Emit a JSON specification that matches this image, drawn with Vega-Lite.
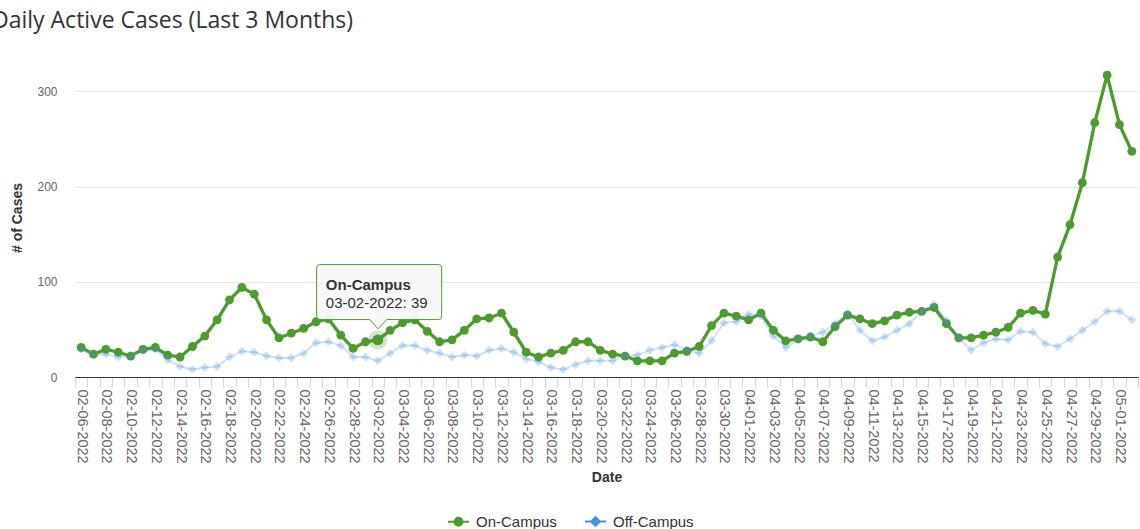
{
  "$schema": "https://vega.github.io/schema/vega-lite/v6.json",
  "width": 1063,
  "height": 319,
  "autosize": {"type": "none"},
  "padding": {"left": 75, "top": 58, "right": 2, "bottom": 152},
  "background": "#ffffff",
  "title": {"text": "Daily Active Cases (Last 3 Months)", "anchor": "start", "frame": "group", "dx": -83, "offset": 7, "baseline": "alphabetic", "font": "Open Sans", "fontSize": 23, "fontWeight": "normal", "color": "#333333"},
  "config": {"view": {"stroke": null}},
  "data": {"values": [
    {"date": "02-06-2022", "On-Campus": 31, "Off-Campus": 29},
    {"date": "02-07-2022", "On-Campus": 24, "Off-Campus": 23},
    {"date": "02-08-2022", "On-Campus": 29, "Off-Campus": 24},
    {"date": "02-09-2022", "On-Campus": 26, "Off-Campus": 21},
    {"date": "02-10-2022", "On-Campus": 22, "Off-Campus": 22},
    {"date": "02-11-2022", "On-Campus": 29, "Off-Campus": 28},
    {"date": "02-12-2022", "On-Campus": 31, "Off-Campus": 29},
    {"date": "02-13-2022", "On-Campus": 23, "Off-Campus": 18},
    {"date": "02-14-2022", "On-Campus": 21, "Off-Campus": 11},
    {"date": "02-15-2022", "On-Campus": 32, "Off-Campus": 8},
    {"date": "02-16-2022", "On-Campus": 43, "Off-Campus": 10},
    {"date": "02-17-2022", "On-Campus": 60, "Off-Campus": 11},
    {"date": "02-18-2022", "On-Campus": 81, "Off-Campus": 21},
    {"date": "02-19-2022", "On-Campus": 94, "Off-Campus": 27},
    {"date": "02-20-2022", "On-Campus": 87, "Off-Campus": 26},
    {"date": "02-21-2022", "On-Campus": 60, "Off-Campus": 22},
    {"date": "02-22-2022", "On-Campus": 41, "Off-Campus": 20},
    {"date": "02-23-2022", "On-Campus": 46, "Off-Campus": 20},
    {"date": "02-24-2022", "On-Campus": 51, "Off-Campus": 25},
    {"date": "02-25-2022", "On-Campus": 58, "Off-Campus": 36},
    {"date": "02-26-2022", "On-Campus": 61, "Off-Campus": 37},
    {"date": "02-27-2022", "On-Campus": 44, "Off-Campus": 33},
    {"date": "02-28-2022", "On-Campus": 30, "Off-Campus": 21},
    {"date": "03-01-2022", "On-Campus": 37, "Off-Campus": 21},
    {"date": "03-02-2022", "On-Campus": 39, "Off-Campus": 17},
    {"date": "03-03-2022", "On-Campus": 49, "Off-Campus": 25},
    {"date": "03-04-2022", "On-Campus": 57, "Off-Campus": 33},
    {"date": "03-05-2022", "On-Campus": 60, "Off-Campus": 33},
    {"date": "03-06-2022", "On-Campus": 48, "Off-Campus": 28},
    {"date": "03-07-2022", "On-Campus": 37, "Off-Campus": 25},
    {"date": "03-08-2022", "On-Campus": 39, "Off-Campus": 21},
    {"date": "03-09-2022", "On-Campus": 49, "Off-Campus": 23},
    {"date": "03-10-2022", "On-Campus": 61, "Off-Campus": 22},
    {"date": "03-11-2022", "On-Campus": 62, "Off-Campus": 28},
    {"date": "03-12-2022", "On-Campus": 67, "Off-Campus": 30},
    {"date": "03-13-2022", "On-Campus": 47, "Off-Campus": 26},
    {"date": "03-14-2022", "On-Campus": 26, "Off-Campus": 19},
    {"date": "03-15-2022", "On-Campus": 21, "Off-Campus": 16},
    {"date": "03-16-2022", "On-Campus": 25, "Off-Campus": 10},
    {"date": "03-17-2022", "On-Campus": 28, "Off-Campus": 8},
    {"date": "03-18-2022", "On-Campus": 37, "Off-Campus": 13},
    {"date": "03-19-2022", "On-Campus": 37, "Off-Campus": 17},
    {"date": "03-20-2022", "On-Campus": 28, "Off-Campus": 17},
    {"date": "03-21-2022", "On-Campus": 24, "Off-Campus": 17},
    {"date": "03-22-2022", "On-Campus": 22, "Off-Campus": 22},
    {"date": "03-23-2022", "On-Campus": 17, "Off-Campus": 23},
    {"date": "03-24-2022", "On-Campus": 17, "Off-Campus": 28},
    {"date": "03-25-2022", "On-Campus": 17, "Off-Campus": 31},
    {"date": "03-26-2022", "On-Campus": 25, "Off-Campus": 34},
    {"date": "03-27-2022", "On-Campus": 27, "Off-Campus": 28},
    {"date": "03-28-2022", "On-Campus": 32, "Off-Campus": 25},
    {"date": "03-29-2022", "On-Campus": 54, "Off-Campus": 38},
    {"date": "03-30-2022", "On-Campus": 67, "Off-Campus": 57},
    {"date": "03-31-2022", "On-Campus": 64, "Off-Campus": 58},
    {"date": "04-01-2022", "On-Campus": 60, "Off-Campus": 66},
    {"date": "04-02-2022", "On-Campus": 67, "Off-Campus": 64},
    {"date": "04-03-2022", "On-Campus": 49, "Off-Campus": 43},
    {"date": "04-04-2022", "On-Campus": 38, "Off-Campus": 31},
    {"date": "04-05-2022", "On-Campus": 40, "Off-Campus": 39},
    {"date": "04-06-2022", "On-Campus": 42, "Off-Campus": 43},
    {"date": "04-07-2022", "On-Campus": 37, "Off-Campus": 47},
    {"date": "04-08-2022", "On-Campus": 53, "Off-Campus": 56},
    {"date": "04-09-2022", "On-Campus": 65, "Off-Campus": 67},
    {"date": "04-10-2022", "On-Campus": 61, "Off-Campus": 49},
    {"date": "04-11-2022", "On-Campus": 56, "Off-Campus": 38},
    {"date": "04-12-2022", "On-Campus": 59, "Off-Campus": 42},
    {"date": "04-13-2022", "On-Campus": 65, "Off-Campus": 49},
    {"date": "04-14-2022", "On-Campus": 68, "Off-Campus": 56},
    {"date": "04-15-2022", "On-Campus": 69, "Off-Campus": 69},
    {"date": "04-16-2022", "On-Campus": 73, "Off-Campus": 76},
    {"date": "04-17-2022", "On-Campus": 56, "Off-Campus": 59},
    {"date": "04-18-2022", "On-Campus": 41, "Off-Campus": 41},
    {"date": "04-19-2022", "On-Campus": 41, "Off-Campus": 28},
    {"date": "04-20-2022", "On-Campus": 44, "Off-Campus": 36},
    {"date": "04-21-2022", "On-Campus": 47, "Off-Campus": 40},
    {"date": "04-22-2022", "On-Campus": 52, "Off-Campus": 39},
    {"date": "04-23-2022", "On-Campus": 67, "Off-Campus": 48},
    {"date": "04-24-2022", "On-Campus": 70, "Off-Campus": 47},
    {"date": "04-25-2022", "On-Campus": 66, "Off-Campus": 35},
    {"date": "04-26-2022", "On-Campus": 126, "Off-Campus": 32},
    {"date": "04-27-2022", "On-Campus": 160, "Off-Campus": 40},
    {"date": "04-28-2022", "On-Campus": 204, "Off-Campus": 49},
    {"date": "04-29-2022", "On-Campus": 267, "Off-Campus": 58},
    {"date": "04-30-2022", "On-Campus": 317, "Off-Campus": 69},
    {"date": "05-01-2022", "On-Campus": 265, "Off-Campus": 69},
    {"date": "05-02-2022", "On-Campus": 237, "Off-Campus": 60}
  ]},
  "transform": [{"fold": ["On-Campus", "Off-Campus"], "as": ["series", "cases"]}],
  "encoding": {
    "x": {
      "field": "date", "type": "ordinal",
      "scale": {"type": "band", "paddingInner": 0, "paddingOuter": 0},
      "axis": {
        "title": "Date", "labelAngle": 90, "labelAlign": "left", "labelBaseline": "middle",
        "labelPadding": 2, "labelFont": "Liberation Sans", "labelFontSize": 14.5, "labelColor": "#666666",
        "labelOverlap": false, "tickBand": "extent", "tickSize": 10, "tickColor": "#ccd6eb",
        "domainColor": "#333333", "domainWidth": 1, "grid": false,
        "labelExpr": "round((time(datetime(2022, toNumber(substring(datum.value,0,2))-1, toNumber(substring(datum.value,3,5)))) - time(datetime(2022,1,6)))/86400000) % 2 === 0 ? datum.label : ''",
        "titleFont": "Liberation Sans", "titleFontSize": 14, "titleFontWeight": "bold", "titleColor": "#333333", "titlePadding": 7
      }
    },
    "y": {
      "field": "cases", "type": "quantitative",
      "scale": {"domain": [0, 335], "nice": false},
      "axis": {
        "title": "# of Cases", "values": [0, 100, 200, 300], "domain": false, "ticks": false,
        "grid": true, "gridColor": "#e6e6e6", "labelPadding": 18, "labelFont": "Liberation Sans",
        "labelFontSize": 12, "labelColor": "#666666", "titleFont": "Liberation Sans", "titleFontSize": 14,
        "titleFontWeight": "bold", "titleColor": "#333333", "titlePadding": 12
      }
    }
  },
  "layer": [
    {
      "transform": [{"filter": "datum.series === 'On-Campus'"}],
      "mark": {"type": "line", "strokeWidth": 3.3},
      "encoding": {
        "color": {
          "field": "series", "type": "nominal",
          "scale": {"domain": ["On-Campus", "Off-Campus"], "range": ["#4e9a2f", "#4a90d9"]},
          "legend": {
            "orient": "none", "legendX": 372, "legendY": 452, "direction": "horizontal", "title": null,
            "labelFont": "Liberation Sans", "labelFontSize": 15, "labelColor": "#333333",
            "symbolSize": 441, "symbolStrokeWidth": 2, "columnPadding": 24, "labelOffset": 6, "padding": 0,
            "encode": {"symbols": {"update": {
              "shape": {"signal": "datum.value === 'On-Campus' ? 'M-1,0L1,0M0.38,0A0.38,0.38,0,1,1,-0.38,0A0.38,0.38,0,1,1,0.38,0Z' : 'M-1,0L1,0M0,-0.42L0.42,0L0,0.42L-0.42,0Z'"},
              "fill": {"signal": "datum.value === 'On-Campus' ? '#4e9a2f' : '#4a90d9'"},
              "stroke": {"signal": "datum.value === 'On-Campus' ? '#4e9a2f' : '#4a90d9'"},
              "strokeWidth": {"value": 2},
              "opacity": {"value": 1},
              "fillOpacity": {"value": 1}
            }}}
          }
        }
      }
    },
    {
      "transform": [{"filter": "datum.series === 'On-Campus'"}],
      "mark": {"type": "point", "filled": true, "shape": "circle", "size": 78, "opacity": 1},
      "encoding": {"color": {"field": "series", "type": "nominal"}}
    },
    {
      "transform": [{"filter": "datum.series === 'Off-Campus'"}],
      "mark": {"type": "line", "strokeWidth": 2, "opacity": 0.28},
      "encoding": {"color": {"field": "series", "type": "nominal"}}
    },
    {
      "transform": [{"filter": "datum.series === 'Off-Campus'"}],
      "mark": {"type": "point", "filled": true, "shape": "diamond", "size": 80, "opacity": 0.28},
      "encoding": {"color": {"field": "series", "type": "nominal"}}
    },
    {
      "transform": [{"filter": "datum.series === 'On-Campus' && datum.date === '03-02-2022'"}],
      "mark": {"type": "point", "filled": true, "shape": "circle", "size": 370, "opacity": 0.25, "color": "#4e9a2f"}
    },
    {
      "transform": [{"filter": "datum.series === 'On-Campus' && datum.date === '03-02-2022'"}],
      "mark": {"type": "point", "filled": true, "shape": "circle", "size": 120, "opacity": 1, "color": "#4e9a2f"}
    },
    {
      "transform": [{"filter": "datum.series === 'On-Campus' && datum.date === '03-02-2022'"}],
      "mark": {
        "type": "point", "filled": true, "size": 10000,
        "shape": "M-1.164,-1.506L1.216,-1.506Q1.276,-1.506,1.276,-1.446L1.276,-0.466Q1.276,-0.406,1.216,-0.406L0.18,-0.406L0,-0.22L-0.16,-0.406L-1.164,-0.406Q-1.224,-0.406,-1.224,-0.466L-1.224,-1.446Q-1.224,-1.506,-1.164,-1.506Z",
        "fill": "#f7f7f7", "fillOpacity": 0.92, "stroke": "#4e9a2f", "strokeWidth": 1, "opacity": 1
      }
    },
    {
      "transform": [{"filter": "datum.series === 'On-Campus' && datum.date === '03-02-2022'"}],
      "mark": {"type": "text", "align": "left", "baseline": "alphabetic", "dx": -52, "dy": -50, "font": "Liberation Sans", "fontSize": 15, "fontWeight": "bold", "color": "#333333"},
      "encoding": {"text": {"value": "On-Campus"}}
    },
    {
      "transform": [{"filter": "datum.series === 'On-Campus' && datum.date === '03-02-2022'"}],
      "mark": {"type": "text", "align": "left", "baseline": "alphabetic", "dx": -52, "dy": -32, "font": "Liberation Sans", "fontSize": 15, "fontWeight": "normal", "color": "#333333"},
      "encoding": {"text": {"value": "03-02-2022: 39"}}
    }
  ]
}
